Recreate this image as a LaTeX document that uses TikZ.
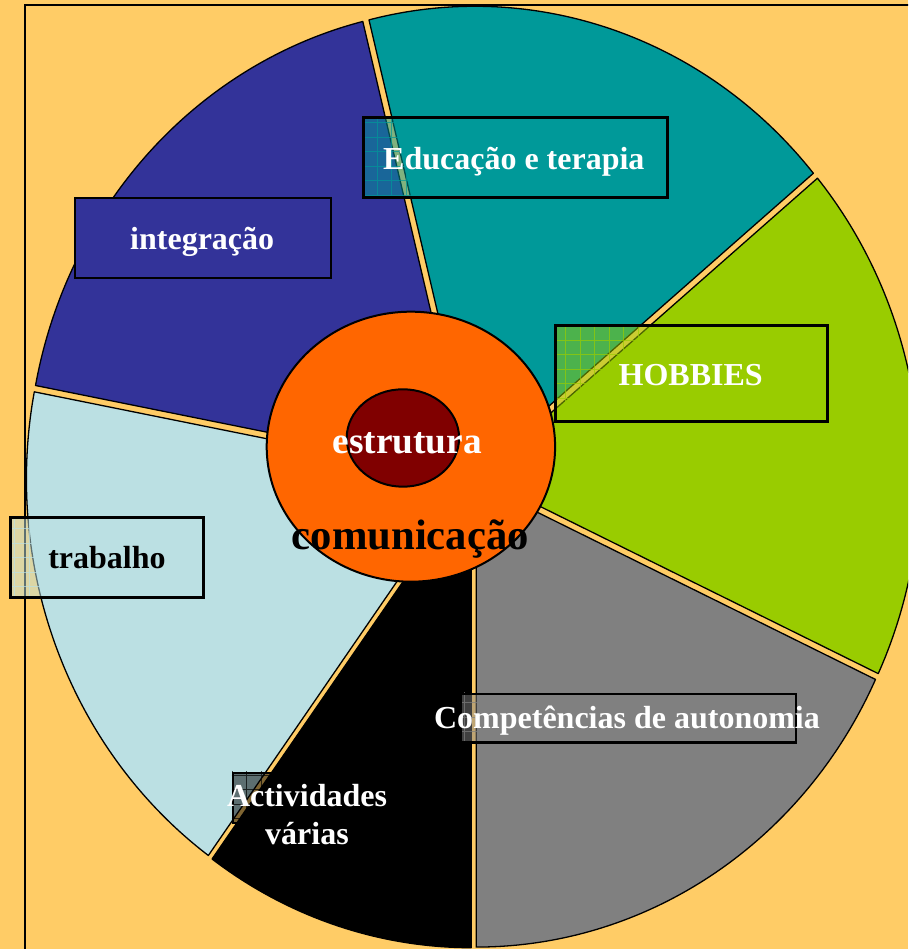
\documentclass[tikz,border=0pt]{standalone}
\usepackage{fontspec}
\setmainfont{Liberation Serif}
\definecolor{bgc}{HTML}{FFCC66}
\definecolor{tealc}{HTML}{009999}
\definecolor{bluec}{HTML}{333399}
\definecolor{lbluec}{HTML}{BBE0E3}
\definecolor{grayc}{HTML}{808080}
\definecolor{greenc}{HTML}{99CC00}
\definecolor{orangec}{HTML}{FF6600}
\definecolor{redc}{HTML}{800000}
\tikzset{
  wedge/.style={draw=black, line width=1.3pt, line join=round},
  lblbox/.style={rectangle, draw=black, inner sep=0pt, line width=3pt},
  gridln/.style={line width=0.6pt, opacity=0.7},
  lbl/.style={anchor=base, inner sep=0pt, font=\bfseries\fontsize{32}{37}\selectfont},
}
\begin{document}
\begin{tikzpicture}[x=1pt,y=1pt]
\useasboundingbox (0,0) rectangle (908,949);
\clip (0,0) rectangle (908,949);
\fill[bgc] (0,0) rectangle (908,949);
% frame
\draw[line width=1.6pt] (25,-20) -- (25,944) -- (940,944);
% pie wedges
\filldraw[wedge, fill=tealc] (474.85,477.71) -- ++(39.86:441pt and 465pt) arc[start angle=39.86, end angle=103.89, x radius=441pt, y radius=465pt] -- cycle;
\filldraw[wedge, fill=bluec] (468.65,476.13) -- ++(103.89:441pt and 465pt) arc[start angle=103.89, end angle=169.17, x radius=441pt, y radius=465pt] -- cycle;
\filldraw[wedge, fill=lbluec] (467.42,469.79) -- ++(169.17:441pt and 465pt) arc[start angle=169.17, end angle=234.02, x radius=441pt, y radius=465pt] -- cycle;
\filldraw[wedge, fill=black] (471.15,466.29) -- ++(234.02:441pt and 465pt) arc[start angle=234.02, end angle=270, x radius=441pt, y radius=465pt] -- cycle;
\filldraw[wedge, fill=grayc] (476.21,466.93) -- ++(270:441pt and 465pt) arc[start angle=270, end angle=334.88, x radius=441pt, y radius=465pt] -- cycle;
\filldraw[wedge, fill=greenc] (478.95,472.77) -- ++(-25.12:441pt and 465pt) arc[start angle=-25.12, end angle=39.86, x radius=441pt, y radius=465pt] -- cycle;
% centre ellipses
\filldraw[fill=orangec, draw=black, line width=2pt] (410.9,502.3) ellipse [x radius=144.2pt, y radius=135pt];
\filldraw[fill=redc, draw=black, line width=2pt] (402.9,511) ellipse [x radius=56.2pt, y radius=48.7pt];
% label boxes
\node[lblbox, draw=none, fill=tealc, fill opacity=0.5, minimum width=304pt, minimum height=80pt] (bedu) at (515,791) {};
\begin{scope}
  \clip (bedu.south west) rectangle (bedu.north east);
  \draw[gridln, tealc, step=14.5pt] (bedu.south west) grid (bedu.north east);
\end{scope}
\node[lblbox, minimum width=304pt, minimum height=80pt] at (515,791) {};

\node[lblbox, line width=1.5pt, fill=bluec, minimum width=256pt, minimum height=80pt] (bint) at (203,711) {};

\node[lblbox, draw=none, fill=greenc, fill opacity=0.5, minimum width=272pt, minimum height=96pt] (bhob) at (691,575) {};
\begin{scope}
  \clip (bhob.south west) rectangle (bhob.north east);
  \draw[gridln, greenc, step=14.5pt] (bhob.south west) grid (bhob.north east);
\end{scope}
\node[lblbox, minimum width=272pt, minimum height=96pt] at (691,575) {};

\node[lblbox, draw=none, fill=lbluec, fill opacity=0.5, minimum width=193pt, minimum height=80pt] (btra) at (106.5,391) {};
\begin{scope}
  \clip (btra.south west) rectangle (btra.north east);
  \draw[gridln, lbluec, step=14.5pt] (btra.south west) grid (btra.north east);
\end{scope}
\node[lblbox, minimum width=193pt, minimum height=80pt] at (106.5,391) {};

\node[lblbox, draw=none, fill=grayc, fill opacity=0.5, minimum width=335pt, minimum height=48.5pt] (bcom) at (628.5,230.75) {};
\begin{scope}
  \clip (bcom.south west) rectangle (bcom.north east);
  \draw[gridln, grayc, step=14.5pt] (bcom.south west) grid (bcom.north east);
\end{scope}
\node[lblbox, line width=2.6pt, minimum width=335pt, minimum height=48.5pt] at (628.5,230.75) {};

\node[lblbox, draw=none, fill=black, fill opacity=0.5, minimum width=148pt, minimum height=50pt] (bact) at (307,151) {};
\begin{scope}
  \clip (bact.south west) rectangle (bact.north east);
  \draw[gridln, black, step=14.5pt] (bact.south west) grid (bact.north east);
\end{scope}
\node[lblbox, line width=2.4pt, minimum width=148pt, minimum height=50pt] at (307,151) {};
% texts
\node[lbl, text=white] (tedu) at (513.8,779) {Educação e terapia};
\node[lbl, text=white] (tint) at (202.2,699.5) {integração};
\node[lbl, text=white] (thob) at (690.7,563) {HOBBIES};
\node[lbl, text=black] (ttra) at (107,380) {trabalho};
\node[lbl, text=white] (tcom) at (627,220) {Competências de autonomia};
\node[lbl, text=white] (tact1) at (307,142.3) {Actividades};
\node[lbl, text=white] (tact2) at (307,104.7) {várias};
\node[lbl, text=white, font=\bfseries\fontsize{37.33}{43}\selectfont] (test) at (407.3,495.7) {estrutura};
\node[lbl, text=black, font=\bfseries\fontsize{42.67}{49}\selectfont] (tcomu) at (410.3,399) {comunicação};
\end{tikzpicture}
\end{document}
